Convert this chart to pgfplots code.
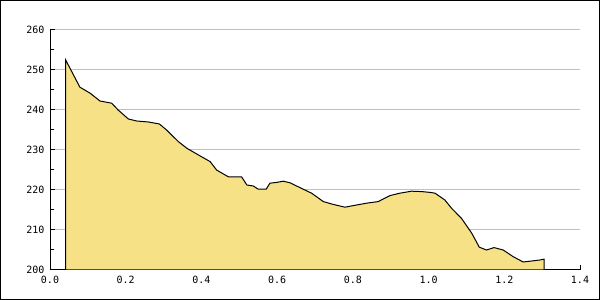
\documentclass[border=0pt]{standalone}
\usepackage{pgfplots}
\pgfplotsset{compat=1.18}
\usepackage{fontspec}
\setmainfont{Liberation Sans}
\newfontfamily\tickfont{DejaVu Sans Mono}
\definecolor{areafill}{RGB}{246,225,135}
\definecolor{gridgrey}{RGB}{192,192,192}
\pgfplotsset{
  layers/gridbelow/.define layer set={axis background,axis grid,pre main,main,axis ticks,axis lines,axis tick labels,axis descriptions,axis foreground}{},
}
\begin{document}
\begin{tikzpicture}
\begin{axis}[
  set layers=gridbelow,
  scale only axis,
  width=530bp, height=240bp,
  xmin=0, xmax=1.4, ymin=200, ymax=260,
  axis lines*=left,
  axis line style={-, line width=1bp, black},
  xtick={0,0.2,0.4,0.6,0.8,1.0,1.2,1.4},
  ytick={200,210,220,230,240,250,260},
  minor y tick num=1,
  tick align=inside,
  major tick length=5bp,
  minor tick length=4bp,
  every tick/.style={black, line width=1bp},
  ymajorgrids,
  major grid style={gridgrey, line width=1bp},
  x tick label style={/pgf/number format/fixed, /pgf/number format/fixed zerofill, /pgf/number format/precision=1},
  /pgf/number format/assume math mode=true,
  tick label style={font=\tickfont\fontsize{10bp}{12bp}\selectfont},
  yticklabel style={xshift=-2bp},
  xticklabel style={yshift=-3bp},
]
\addplot[fill=areafill, draw=black, line width=1bp] coordinates {
(0.0414,200)
(0.0414,252.5) (0.079,245.7) (0.106,244.2) (0.132,242.25) (0.163,241.7)
(0.18,240) (0.207,237.75) (0.229,237.25) (0.26,237) (0.289,236.5)
(0.308,235) (0.339,232.1) (0.362,230.4) (0.395,228.6) (0.423,227.1)
(0.440,225) (0.471,223.3) (0.506,223.3) (0.520,221.25) (0.537,221)
(0.550,220.2) (0.571,220.2) (0.581,221.7) (0.599,221.9) (0.616,222.2)
(0.634,221.8) (0.660,220.6) (0.691,219.2) (0.722,217.1) (0.748,216.4)
(0.779,215.7) (0.810,216.25) (0.836,216.7) (0.867,217.1) (0.898,218.6)
(0.924,219.2) (0.955,219.7) (0.982,219.6) (1.004,219.4) (1.017,219.2)
(1.043,217.5) (1.061,215.4) (1.087,212.9) (1.114,209.2) (1.134,205.7)
(1.153,205) (1.173,205.6) (1.197,205) (1.224,203.3) (1.250,202)
(1.277,202.3) (1.294,202.5) (1.305,202.7)
(1.305,200)
} -- cycle;
\end{axis}
\path ([xshift=-50bp,yshift=-30bp]current axis.south west) rectangle ([xshift=20bp,yshift=30bp]current axis.north east);
\draw[line width=1bp] ([xshift=-49.5bp,yshift=-29.5bp]current axis.south west) rectangle ([xshift=19.5bp,yshift=29.5bp]current axis.north east);
\end{tikzpicture}
\end{document}
